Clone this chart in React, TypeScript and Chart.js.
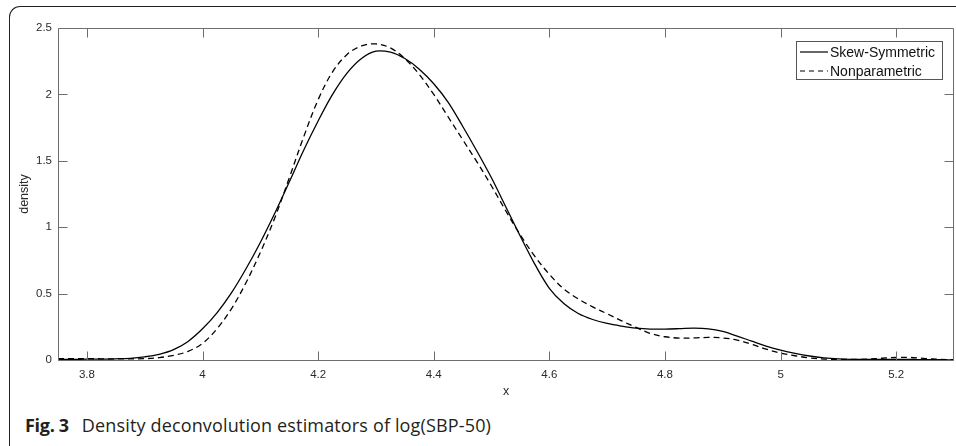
import React, { useEffect, useRef } from "react";
import { Chart, registerables } from "chart.js";

Chart.register(...registerables);

const xValues = [
  3.75, 3.775, 3.8, 3.825, 3.85, 3.875, 3.9, 3.925, 3.95, 3.975,
  4.0, 4.025, 4.05, 4.075, 4.1, 4.125, 4.15, 4.175, 4.2, 4.225,
  4.25, 4.275, 4.3, 4.325, 4.35, 4.375, 4.4, 4.425, 4.45, 4.475,
  4.5, 4.525, 4.55, 4.575, 4.6, 4.625, 4.65, 4.675, 4.7, 4.725,
  4.75, 4.775, 4.8, 4.825, 4.85, 4.875, 4.9, 4.925, 4.95, 4.975,
  5.0, 5.025, 5.05, 5.075, 5.1, 5.125, 5.15, 5.175, 5.2, 5.225,
  5.25, 5.275, 5.3,
];

const skewSymmetric = [
  0.005, 0.005, 0.006, 0.007, 0.009, 0.013, 0.024, 0.043, 0.078, 0.14,
  0.235, 0.355, 0.505, 0.685, 0.885, 1.105, 1.34, 1.58, 1.8, 2.0,
  2.16, 2.27, 2.325, 2.318, 2.27, 2.19, 2.08, 1.94, 1.76, 1.57,
  1.37, 1.15, 0.93, 0.72, 0.54, 0.425, 0.35, 0.305, 0.275, 0.255,
  0.24, 0.233, 0.233, 0.236, 0.24, 0.235, 0.215, 0.18, 0.142, 0.105,
  0.075, 0.05, 0.03, 0.016, 0.008, 0.005, 0.004, 0.004, 0.004, 0.004,
  0.003, 0.002, 0.001,
];

const nonparametric = [
  0.01, 0.01, 0.01, 0.009, 0.008, 0.008, 0.01, 0.018, 0.035, 0.065,
  0.125, 0.235, 0.385, 0.58, 0.81, 1.07, 1.37, 1.68, 1.96, 2.17,
  2.3, 2.365, 2.38, 2.35, 2.27, 2.15, 2.0, 1.83, 1.66, 1.49,
  1.31, 1.12, 0.94, 0.78, 0.645, 0.535, 0.46, 0.4, 0.348, 0.295,
  0.245, 0.2, 0.175, 0.165, 0.166, 0.17, 0.166, 0.15, 0.118, 0.082,
  0.052, 0.032, 0.016, 0.007, 0.004, 0.004, 0.007, 0.013, 0.019, 0.019,
  0.011, 0.005, 0.002,
];

const xTicks = [3.8, 4.0, 4.2, 4.4, 4.6, 4.8, 5.0, 5.2];
const yTicks = [0, 0.5, 1, 1.5, 2, 2.5];
const seriesNames = ["Skew-Symmetric", "Nonparametric"];

const AXIS_COLOR = "#6e6e6e";
const TEXT_COLOR = "#2b2b2b";
const FONT_FAMILY = "'Liberation Sans', Arial, sans-serif";

const fmt = (v: number) => String(Number(v.toFixed(2)));

const decorPlugin = {
  id: "decor",
  afterDatasetsDraw(chart: any) {
    const { ctx, chartArea } = chart;
    const { left, right, top, bottom } = chartArea;
    const xs = chart.scales.x;
    const ys = chart.scales.y;
    ctx.save();
    ctx.strokeStyle = AXIS_COLOR;
    ctx.lineWidth = 1;
    const L = Math.round(left) + 0.5;
    const R = Math.round(right) - 0.5;
    const T = Math.round(top) + 0.5;
    const B = Math.round(bottom) + 0.5;
    ctx.beginPath();
    ctx.rect(L, T, R - L, B - T);
    ctx.stroke();
    const tl = 9;
    ctx.beginPath();
    xTicks.forEach((v) => {
      const px = Math.round(xs.getPixelForValue(v)) + 0.5;
      ctx.moveTo(px, B);
      ctx.lineTo(px, B - tl);
      ctx.moveTo(px, T);
      ctx.lineTo(px, T + tl);
    });
    yTicks.forEach((v) => {
      const py = Math.round(ys.getPixelForValue(v)) + 0.5;
      ctx.moveTo(L, py);
      ctx.lineTo(L + tl, py);
      ctx.moveTo(R, py);
      ctx.lineTo(R - tl, py);
    });
    ctx.stroke();

    // axis titles
    ctx.fillStyle = TEXT_COLOR;
    ctx.font = "12.5px " + FONT_FAMILY;
    ctx.textAlign = "center";
    ctx.textBaseline = "middle";
    ctx.fillText("x", (left + right) / 2, 392);
    ctx.save();
    ctx.translate(25, (top + bottom) / 2);
    ctx.rotate(-Math.PI / 2);
    ctx.fillText("density", 0, 0);
    ctx.restore();

    // legend
    const lx = 796.5, ly = 41.5, lw = 146, lh = 38;
    ctx.fillStyle = "#ffffff";
    ctx.fillRect(lx, ly, lw, lh);
    ctx.strokeStyle = "#555555";
    ctx.lineWidth = 1;
    ctx.strokeRect(lx, ly, lw, lh);
    ctx.font = "14px " + FONT_FAMILY;
    ctx.textAlign = "left";
    ctx.fillStyle = "#111111";
    const rows = [52, 71];
    rows.forEach((ry, i) => {
      ctx.strokeStyle = "#000000";
      ctx.lineWidth = 1.2;
      ctx.setLineDash(i === 0 ? [] : [5, 4]);
      ctx.beginPath();
      ctx.moveTo(800, ry);
      ctx.lineTo(828, ry);
      ctx.stroke();
      ctx.setLineDash([]);
      ctx.fillText(seriesNames[i], 830, ry + 1);
    });
    ctx.restore();
  },
};

export default function App() {
  const canvasRef = useRef<HTMLCanvasElement | null>(null);

  useEffect(() => {
    if (!canvasRef.current) return;
    const chart = new Chart(canvasRef.current, {
      type: "line",
      data: {
        datasets: [
          {
            label: seriesNames[0],
            data: xValues.map((x, i) => ({ x, y: skewSymmetric[i] })),
            borderColor: "#000000",
            borderWidth: 1.3,
            pointRadius: 0,
            tension: 0.35,
            fill: false,
          },
          {
            label: seriesNames[1],
            data: xValues.map((x, i) => ({ x, y: nonparametric[i] })),
            borderColor: "#000000",
            borderWidth: 1.3,
            borderDash: [6, 4],
            pointRadius: 0,
            tension: 0.35,
            fill: false,
          },
        ],
      },
      options: {
        responsive: false,
        animation: false,
        devicePixelRatio: 1,
        layout: { padding: { top: 28, right: 2, left: 0, bottom: 0 } },
        plugins: {
          legend: { display: false },
          tooltip: { enabled: false },
        },
        scales: {
          x: {
            type: "linear",
            min: 3.75,
            max: 5.3,
            grid: { display: false, drawTicks: false },
            border: { display: false },
            afterBuildTicks: (s: any) => {
              s.ticks = xTicks.map((v) => ({ value: v }));
            },
            afterFit: (s: any) => {
              s.height = 40;
            },
            ticks: {
              padding: 8,
              color: TEXT_COLOR,
              font: { family: FONT_FAMILY, size: 11.5 },
              maxRotation: 0,
              autoSkip: false,
              callback: (v: any) => fmt(Number(v)),
            },
          },
          y: {
            type: "linear",
            min: 0,
            max: 2.5,
            grid: { display: false, drawTicks: false },
            border: { display: false },
            afterBuildTicks: (s: any) => {
              s.ticks = yTicks.map((v) => ({ value: v }));
            },
            afterFit: (s: any) => {
              s.width = 58;
            },
            ticks: {
              padding: 6,
              color: TEXT_COLOR,
              font: { family: FONT_FAMILY, size: 11.5 },
              autoSkip: false,
              callback: (v: any) => fmt(Number(v)),
            },
          },
        },
      },
      plugins: [decorPlugin],
    } as any);
    return () => chart.destroy();
  }, []);

  return (
    <div
      style={{
        position: "absolute",
        left: 0,
        top: 0,
        width: 956,
        height: 446,
        overflow: "hidden",
        background: "#ffffff",
      }}
    >
      <div
        style={{
          position: "absolute",
          left: 9,
          top: 6,
          width: 990,
          height: 500,
          borderTop: "1.5px solid #222",
          borderLeft: "1.5px solid #222",
          borderTopLeftRadius: 11,
          boxSizing: "border-box",
        }}
      />
      <canvas
        ref={canvasRef}
        width={956}
        height={400}
        style={{ position: "absolute", left: 0, top: 0, width: 956, height: 400 }}
      />
      <div
        style={{
          position: "absolute",
          left: 25,
          top: 412,
          fontFamily: "'Open Sans', 'Noto Sans', sans-serif",
          fontSize: 18,
          color: "#231f20",
          whiteSpace: "nowrap",
          lineHeight: "26px",
        }}
      >
        <span style={{ fontWeight: 700, marginRight: 13, letterSpacing: -0.3 }}>Fig. 3</span>
        <span style={{ letterSpacing: 0.15 }}>Density deconvolution estimators of log(SBP-50)</span>
      </div>
    </div>
  );
}
